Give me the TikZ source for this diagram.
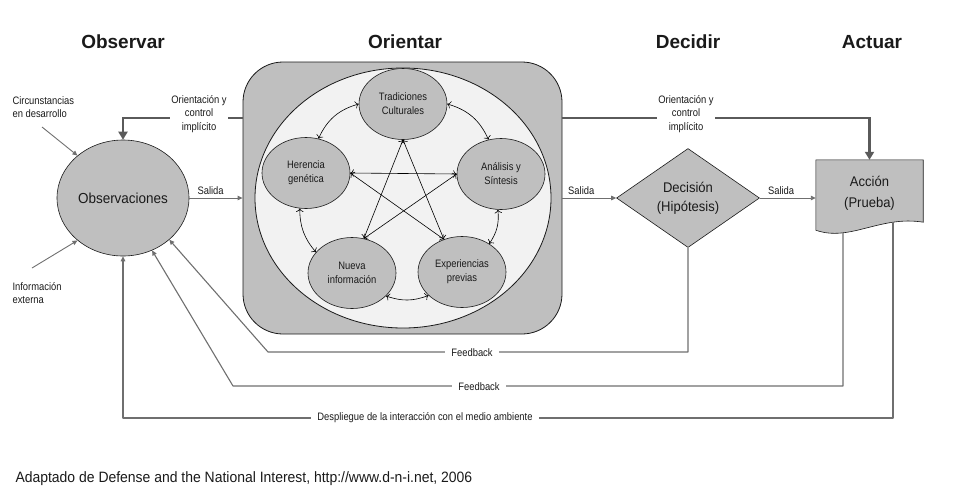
\documentclass[tikz,border=0pt]{standalone}
\usepackage{fontspec}
\setmainfont{Liberation Sans}
\newfontfamily\narrowsf[FakeStretch=0.87]{Liberation Sans}
\newfontfamily\midsf[FakeStretch=0.93]{Liberation Sans}
\usepackage{tikz}
\usetikzlibrary{calc,arrows.meta,positioning,shapes.geometric,backgrounds}
\definecolor{fillg}{HTML}{BFBFBF}
\definecolor{pale}{HTML}{F2F2F2}
\definecolor{ink}{HTML}{1A1A1A}
\definecolor{wire}{HTML}{6F6F6F}
\definecolor{heavy}{HTML}{5A5A5A}
\tikzset{
  phase/.style={text=ink, font=\fontsize{19}{22}\selectfont\bfseries},
  big/.style={ellipse, draw=ink, fill=fillg, line width=0.6pt, inner sep=0pt, text=ink, font=\midsf\fontsize{14.5}{17}\selectfont},
  sub/.style={ellipse, draw=ink, fill=fillg, line width=0.6pt, minimum width=88pt, minimum height=71pt, inner sep=0pt, align=center, text=ink, font=\narrowsf\fontsize{10.8}{14}\selectfont},
  lab/.style={text=ink, font=\narrowsf\fontsize{10.8}{13.5}\selectfont, align=center},
  labfill/.style={lab, fill=white, inner xsep=6pt, inner ysep=2pt},
  ctrltxt/.style={lab, fill=white, inner xsep=1pt, inner ysep=2pt},
  flow/.style={draw=wire, line width=0.9pt, -{Triangle[width=4.5pt,length=5pt]}},
  fb/.style={draw=wire, line width=1.1pt, line join=round, -{Triangle[width=4.5pt,length=5pt]}},
  ctrl/.style={draw=heavy, line width=2.8pt, -{Triangle[width=9pt,length=8pt]}},
  link/.style={draw=black, line width=0.6pt, {To[length=3.5pt]}-{To[length=3.5pt]}},
}

\begin{document}
\begin{tikzpicture}[x=1pt,y=-1pt]
  \useasboundingbox (0,0) rectangle (953,496);

  % phase titles
  \node[phase] (tobs) at (123,42) {Observar};
  \node[phase] (tori) at (405,42) {Orientar};
  \node[phase] (tdec) at (688,42) {Decidir};
  \node[phase] (tact) at (872,42) {Actuar};

  % observar
  \node[big, minimum width=132pt, minimum height=116pt] (obs) at (123,198) {Observaciones};
  \node[lab, align=left, anchor=north west] (circ) at (9,93) {Circunstancias\\en desarrollo};
  \node[lab, align=left, anchor=north west] (info) at (9,279) {Información\\externa};
  \coordinate (circ0) at (42,127);
  \coordinate (info0) at (32,268);
  \draw[flow] (circ0) -- (obs.137);
  \draw[flow] (info0) -- (obs.223);

  % orientar
  \node[rectangle, rounded corners=40pt, draw=ink, fill=fillg, line width=0.8pt, minimum width=319pt, minimum height=272pt] (ori) at (402.5,198) {};
  \node[ellipse, draw=ink, fill=pale, line width=0.8pt, minimum width=296pt, minimum height=260pt] (core) at (403,198) {};
  \node[sub] (trad) at (403,104) {Tradiciones\\Culturales};
  \node[sub] (her) at (306,173) {Herencia\\genética};
  \node[sub] (ana) at (501,174) {Análisis y\\Síntesis};
  \node[sub] (nue) at (352,273) {Nueva\\información};
  \node[sub] (exp) at (462,272) {Experiencias\\previas};

  \draw[link] (trad.west) to[bend right=25] (her.70);
  \draw[link] (trad.east) to[bend left=25] (ana.110);
  \draw[link] (her.-100) to[bend right=20] (nue.150);
  \draw[link] (ana.-95) to[bend left=20] (exp.46);
  \draw[link] (nue.-34) to[bend right=20] (exp.-145);

  \draw[link] (her.east) -- (ana.west);
  \draw[link] (her.east) -- (exp.119);
  \draw[link] (trad.south) -- (nue.71);
  \draw[link] (trad.south) -- (exp.119);
  \draw[link] (ana.west) -- (nue.71);

  % decidir, actuar
  \node[diamond, aspect=1.45, draw=ink, fill=fillg, line width=0.6pt, inner sep=0pt, minimum width=143pt, minimum height=99pt, align=center, text=ink, font=\midsf\fontsize{14}{19}\selectfont] (dec) at (688,198) {Decisión\\(Hipótesis)};
  \node[minimum width=107pt, minimum height=66pt, inner sep=0pt, align=center, text=ink, font=\midsf\fontsize{14}{21}\selectfont] (act) at (869.5,193) {Acción\\(Prueba)};
  \begin{scope}[on background layer]
    \draw[ink, fill=fillg, line width=0.6pt] (act.north west) -- (act.north east) -- ($(act.south east)+(0,-4)$) .. controls ($(act.south east)+(-43,-11)$) and ($(act.south west)+(34,16)$) .. ($(act.south west)+(0,4)$) -- cycle;
  \end{scope}
  \coordinate (actb1) at (843,233);
  \coordinate (actb2) at (893,222);

  % outputs
  \draw[flow] (obs.east) -- node[lab, above, pos=.4] (sal1) {Salida} (ori.west);
  \draw[flow] (ori.east) -- node[lab, above, pos=.35] (sal2) {Salida} (dec.west);
  \draw[flow] (dec.east) -- node[lab, above, pos=.38] (sal3) {Salida} (act.west |- dec.east);

  % implicit guidance and control
  \coordinate (cl) at (200,118);
  \coordinate (cr) at (685,118);
  \draw[ctrl] (ori.west |- cl) -- (obs.north |- cl) -- (obs.north);
  \draw[ctrl] (ori.east |- cr) -- (act.north |- cr) -- (act.north);
  \node[ctrltxt] (cltxt) at (199,114) {Orientación y\\control\\implícito};
  \node[ctrltxt] (crtxt) at (686,114) {Orientación y\\control\\implícito};

  % feedback loops
  \coordinate (fb1) at (268,352);
  \coordinate (fb2) at (233,386);
  \coordinate (fb3) at (123,418);
  \draw[fb] (dec.south) -- (dec.south |- fb1) -- (fb1) -- (obs.-42);
  \draw[fb] (actb1) -- (actb1 |- fb2) -- (fb2) -- (obs.-61);
  \draw[fb] (actb2) -- (actb2 |- fb3) -- (fb3) -- (obs.south);
  \node[labfill] (fbt1) at (472,353) {Feedback};
  \node[labfill] (fbt2) at (479,387) {Feedback};
  \node[labfill] (fbt3) at (425,418) {Despliegue de la interacción con el medio ambiente};

  \node[anchor=west, text=ink, font=\midsf\fontsize{15}{18}\selectfont] (src) at (12,479) {Adaptado de Defense and the National Interest, http://www.d-n-i.net, 2006};
\end{tikzpicture}
\end{document}
